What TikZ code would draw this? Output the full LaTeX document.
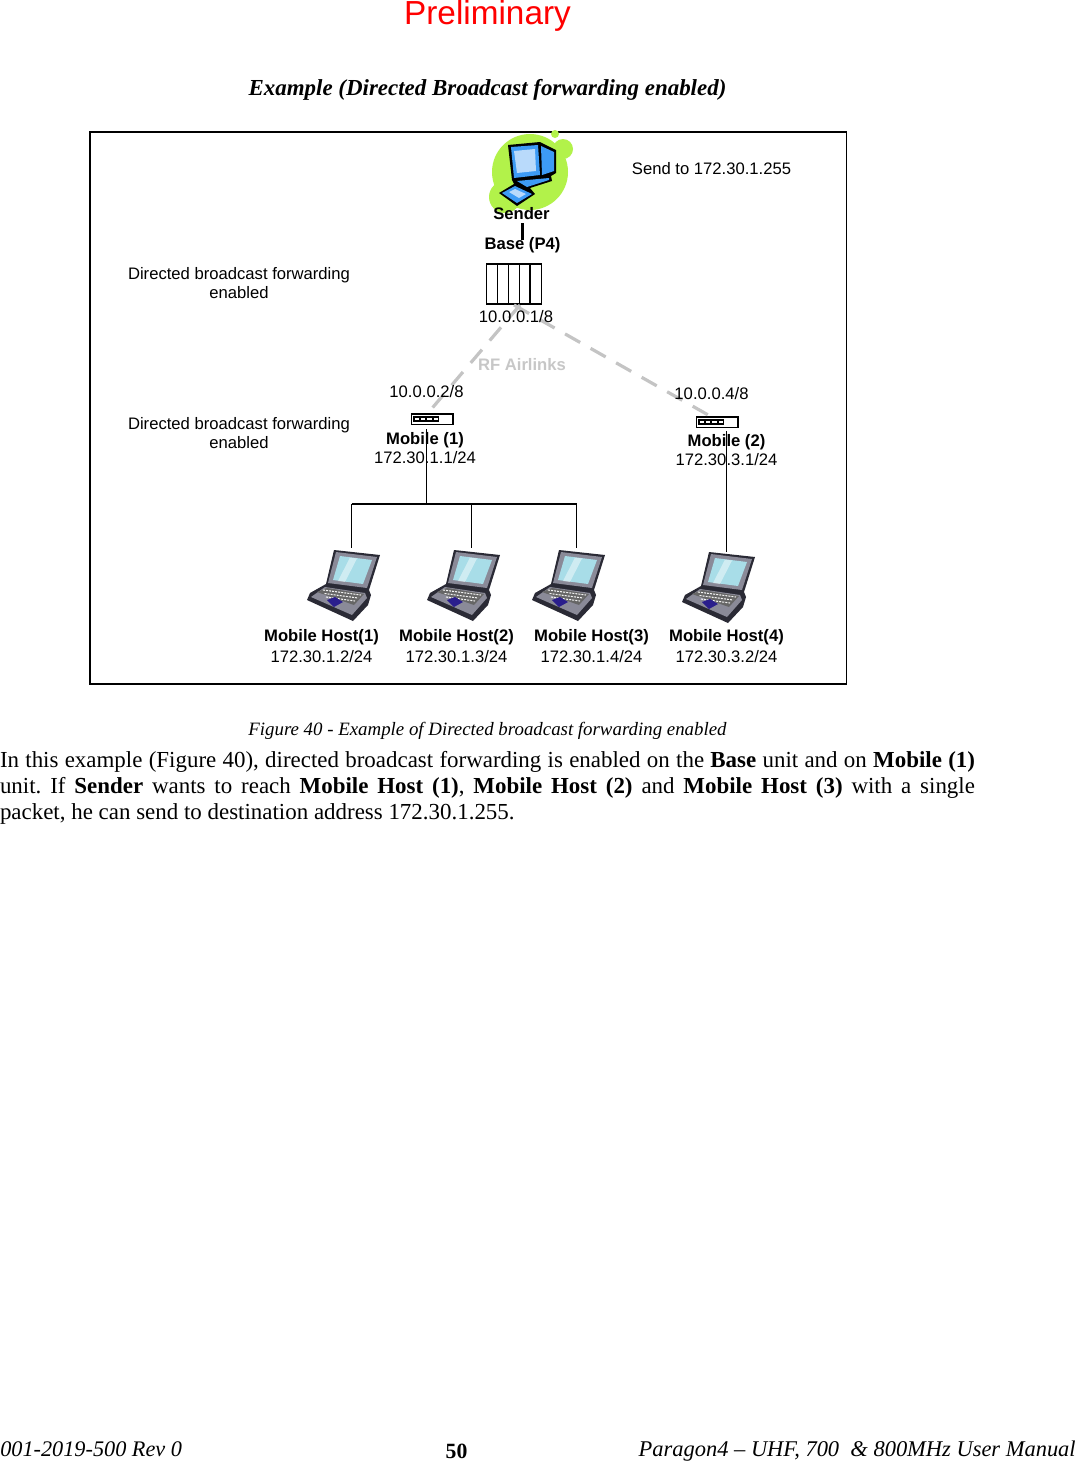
\documentclass[tikz,border=0pt]{standalone}
\usepackage{fontspec}
\setmainfont{Liberation Serif}
\newfontfamily\arialf{Liberation Sans}
\definecolor{blobg}{HTML}{B2F24A}
\definecolor{pcblue}{HTML}{3D9BF5}
\definecolor{pclight}{HTML}{B9DAFB}
\definecolor{lapgrey}{HTML}{8A8A98}
\definecolor{lapscreen}{HTML}{A8DDE8}
\definecolor{lapdark}{HTML}{2A2A35}
\definecolor{padblue}{HTML}{2A1E8C}
\definecolor{linkgrey}{HTML}{C4C4C4}
\newcommand{\pxfs}[1]{\fontsize{#1}{#1}\selectfont}
\tikzset{
  diag/.style={inner sep=0pt,outer sep=0pt,anchor=base,font=\arialf\pxfs{12.48pt}},
  diagb/.style={diag,font=\arialf\bfseries\pxfs{12.48pt}},
  airlink/.style={draw=linkgrey,line width=2.4pt,dash pattern=on 13pt off 9pt},
  thin wire/.style={draw=black,line width=0.7pt},
  thick wire/.style={draw=black,line width=1.4pt},
  pics/laptop/.style={code={
    \fill[lapdark] (1,58)--(4,51)--(20,42)--(28,8)--(74,13)--(63,48)--(65,53)--(62,63)--(47,79)--cycle;
    \fill[lapgrey] (30,10)--(71,15)--(61,46)--(22,41)--cycle;
    \fill[lapscreen] (34,14)--(66,18)--(57,42)--(27,38)--cycle;
    \fill[white,opacity=.45] (44,15.5)--(51,16.5)--(39,40)--(32,39)--cycle;
    \fill[lapgrey] (19,45)--(59,51)--(61,56)--(46,73)--(5,55)--cycle;
    \fill[black!60] (21,46)--(58,52)--(48,63)--(11,50)--cycle;
    \foreach \i in {0,1,2} {\draw[white!90!gray,line width=.8pt,dash pattern=on 1.5pt off .8pt] (17+\i*1.5,48+\i*3.5)--(55-\i*3,53+\i*3);}
    \fill[padblue] (21,58)--(29,55)--(37,60)--(28,65)--cycle;
    \draw[lapdark,line width=.8pt] (4,56)--(46,76)--(62,59);
  }},
  pics/hub/.style={code={
    \draw[black,line width=1.2pt,fill=white] (0,0) rectangle (41.5,10.5);
    \foreach \i in {0,1,2,3} {\draw[black,line width=.9pt] (2.5+\i*6.4,3) rectangle +(5.6,4);}
  }},
}
\begin{document}
\begin{tikzpicture}[x=0.75pt,y=-0.75pt]
\useasboundingbox (0,0) rectangle (1076,1461);
\fill[white] (0,0) rectangle (1076,1461);
% page header
\node[diag,font=\arialf\pxfs{25pt},text=red] (prelim) at (487.5,24.5) {Preliminary};
\node[inner sep=0pt,anchor=base,font=\bfseries\itshape\pxfs{17.2pt}] (title) at (487.5,95.5) {Example (Directed Broadcast forwarding enabled)};
% frame
\node[draw=black,line width=1.1pt,inner sep=0pt,outer sep=0pt,anchor=north west,minimum width=567.5pt,minimum height=414pt] (frame) at (90,132) {};
% sender icon
\fill[blobg] (530,172) circle[radius=38];
\fill[blobg] (505,197) circle[radius=16];
\fill[blobg] (563,149) circle[radius=10];
\fill[blobg] (555,134) circle[radius=4];
\fill[black] (508,145)--(540,142)--(556,150)--(556,173)--(551,176)--(552,181)--(530,188)--(535,194)--(517,206)--(499,193)--(514,184)--(512,180)--cycle;
\fill[pcblue] (511,147)--(538,145)--(540,175)--(514,178)--cycle;
\fill[pcblue] (541,146)--(554,152)--(554,171)--(542,175)--cycle;
\fill[pclight] (514,151)--(535,149)--(536,171)--(517,173)--cycle;
\fill[pcblue] (517,181)--(549,178)--(549,180)--(527,187)--cycle;
\fill[pcblue] (502,193)--(515,186)--(532,194)--(517,203)--cycle;
\fill[pclight] (509,192)--(515,189)--(526,194)--(519,198)--cycle;
% base unit
\node[draw=black,line width=1pt,fill=white,inner sep=0pt,outer sep=0pt,anchor=north west,minimum width=41pt,minimum height=30pt] (base) at (486.5,264) {};
\draw[black,line width=.7pt] (497.5,264)--(497.5,304) (508.5,264)--(508.5,304) (519.5,264)--(519.5,304);
\draw[black,line width=1.3pt] (530,264)--(530,304);
% hubs
\pic at (411.5,414) {hub};
\pic at (696.5,417) {hub};
\coordinate (m1) at (428,413);
\coordinate (m2) at (710,416);
\coordinate (b0) at (520,305);
\coordinate (b1) at (514,305);
% airlinks
\draw[airlink] (b0)--(m1);
\draw[airlink] (b1)--(m2);
% wires
\coordinate (sendbot) at (522.5,223);
\coordinate (basetop) at (522.5,240);
\draw[black,line width=1.8pt] (sendbot)--(basetop);
\coordinate (m1w) at (426.5,429);
\coordinate (m2w) at (726.5,431);
\coordinate (busl) at (351.5,504);
\coordinate (busm) at (426.5,504);
\coordinate (busr) at (576.5,504);
\coordinate (h1) at (351.5,548);
\coordinate (h2) at (471.5,548);
\coordinate (bus2) at (471.5,504);
\coordinate (h3) at (576.5,548);
\coordinate (h4) at (726.5,552);
\draw[thin wire] (m1w)--(busm);
\draw[thin wire] (m2w)--(h4);
\draw[thick wire] (busl)--(busr);
\draw[thin wire] (busl)--(h1);
\draw[thin wire] (bus2)--(h2);
\draw[thin wire] (busr)--(h3);
% laptops
\pic at (306,542) {laptop};
\pic at (426,542) {laptop};
\pic at (531,542) {laptop};
\pic at (681,544) {laptop};
% labels
\node[diagb] (lsender) at (521.5,219) {Sender};
\node[diagb] (lbase) at (522.5,249) {Base (P4)};
\node[diag] (lsend) at (711.5,174) {Send to 172.30.1.255};
\node[diag,align=center,anchor=north] (ld1) at (239,267) {Directed broadcast forwarding\\[1.9pt]enabled};
\node[diag,align=center,anchor=north] (ld2) at (239,417) {Directed broadcast forwarding\\[1.9pt]enabled};
\node[diag] (lip1) at (516,322) {10.0.0.1/8};
\node[diagb,text=black!22] (lrf) at (522,370) {RF Airlinks};
\node[diag] (lip2) at (426.5,397) {10.0.0.2/8};
\node[diag] (lip4) at (711.5,399) {10.0.0.4/8};
\node[diagb] (lm1) at (425,444) {Mobile (1)};
\node[diag] (lm1ip) at (425,463) {172.30.1.1/24};
\node[diagb] (lm2) at (726.5,446) {Mobile (2)};
\node[diag] (lm2ip) at (726.5,465) {172.30.3.1/24};
\node[diagb] (lh1) at (321.5,641) {Mobile Host(1)};
\node[diagb] (lh2) at (456.5,641) {Mobile Host(2)};
\node[diagb] (lh3) at (591.5,641) {Mobile Host(3)};
\node[diagb] (lh4) at (726.5,641) {Mobile Host(4)};
\node[diag] (li1) at (321.5,662) {172.30.1.2/24};
\node[diag] (li2) at (456.5,662) {172.30.1.3/24};
\node[diag] (li3) at (591.5,662) {172.30.1.4/24};
\node[diag] (li4) at (726.5,662) {172.30.3.2/24};
% caption and body
\node[inner sep=0pt,anchor=base,font=\itshape\pxfs{14.15pt}] (caption) at (487.5,735.5) {Figure 40 - Example of Directed broadcast forwarding enabled};
\node[inner sep=0pt,outer sep=0pt,anchor=north west,text width=731.25pt,align=justify,font=\fontsize{17.2pt}{19.75pt}\selectfont] (body) at (0,751) {\frenchspacing In this example (Figure 40), directed broadcast forwarding is enabled on the \textbf{Base} unit and on \textbf{Mobile (1)}\linebreak unit. If \textbf{Sender} wants to reach \textbf{Mobile Host (1)}, \textbf{Mobile Host (2)} and \textbf{Mobile Host (3)} with a single\linebreak packet, he can send to destination address 172.30.1.255.};
% footer
\node[inner sep=0pt,anchor=base west,font=\itshape\pxfs{16.7pt}] (f1) at (0,1456) {001-2019-500 Rev 0};
\node[inner sep=0pt,anchor=base,font=\bfseries\pxfs{16.3pt}] (f2) at (456.5,1458) {50};
\node[inner sep=0pt,anchor=base east,font=\itshape\pxfs{16.85pt}] (f3) at (1076,1456) {Paragon4 – UHF, 700\ \ \& 800MHz User Manual};
\end{tikzpicture}
\end{document}
